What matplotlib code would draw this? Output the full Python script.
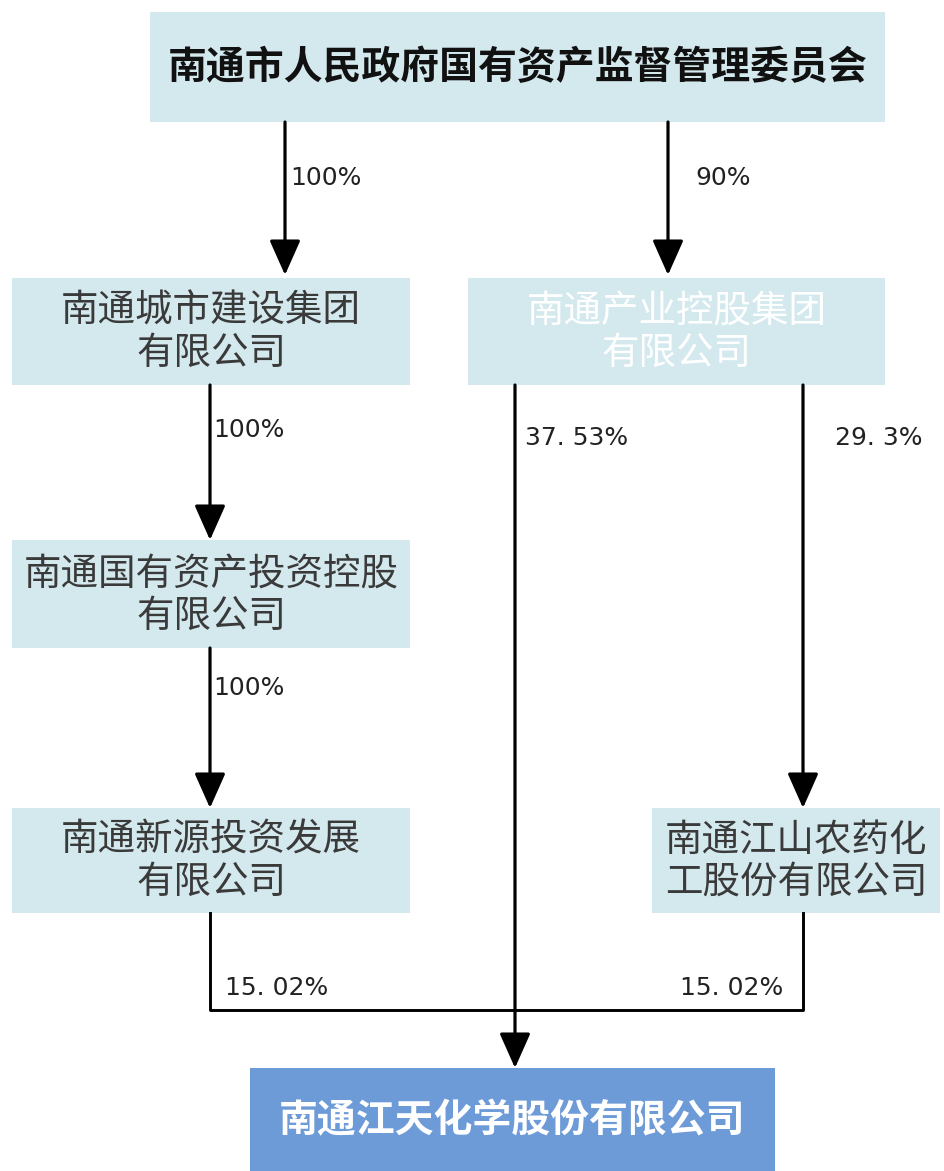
import matplotlib.pyplot as plt
from matplotlib.patches import Rectangle

plt.rcParams['font.family'] = ['Noto Sans CJK SC', 'DejaVu Sans']

# entities and holding percentages
names = ['南通市人民政府国有资产监督管理委员会',
         '南通城市建设集团\n有限公司',
         '南通产业控股集团\n有限公司',
         '南通国有资产投资控股\n有限公司',
         '南通新源投资发展\n有限公司',
         '南通江山农药化\n工股份有限公司',
         '南通江天化学股份有限公司']
shares = ['100%', '90%', '100%', '100%', '37. 53%', '29. 3%', '15. 02%', '15. 02%']

# layout in pixels (x0, y0, x1, y1), y from top
boxes = [(150, 12, 885, 122), (12, 278, 410, 385), (468, 278, 885, 385),
         (12, 540, 410, 648), (12, 808, 410, 913), (652, 808, 940, 913),
         (250, 1068, 775, 1171)]
light = '#d4e9ee'
dark = '#6d9bd8'
fills = [light, light, light, light, light, light, dark]
tcols = ['#111111', '#3a3a3a', 'white', '#3a3a3a', '#3a3a3a', '#3a3a3a', 'white']
weights = ['bold', 'normal', 'normal', 'normal', 'normal', 'normal', 'bold']
sizes = [28, 27, 27, 27, 27, 27, 28]

fig = plt.figure(figsize=(9.45, 11.71), dpi=100)
ax = fig.add_axes([0, 0, 1, 1])
ax.set_xlim(0, 945)
ax.set_ylim(1171, 0)
ax.axis('off')

for (x0, y0, x1, y1), n, fc, tc, w, s in zip(boxes, names, fills, tcols, weights, sizes):
    ax.add_patch(Rectangle((x0, y0), x1 - x0, y1 - y0, facecolor=fc, edgecolor='none'))
    ax.text((x0 + x1) / 2, (y0 + y1) / 2 + 1, n, ha='center', va='center', color=tc,
            fontsize=s, fontweight=w, linespacing=1.1)

lw = 2.3
arrows = [(285, 122, 275), (668, 122, 275), (210, 385, 540),
          (210, 648, 808), (515, 385, 1068), (803, 385, 808)]
for x, ya, yb in arrows:
    ax.annotate('', xy=(x, yb), xytext=(x, ya),
                arrowprops=dict(arrowstyle='-|>,head_length=0.9,head_width=0.4',
                                color='black', lw=lw,
                                mutation_scale=24, shrinkA=0, shrinkB=0))

# bottom joining lines
ax.plot([210, 210, 803, 803], [913, 1010, 1010, 913], color='black', lw=2.1)

label_pos = [(290, 178), (695, 178), (213, 430), (213, 688),
             (525, 438), (835, 438), (225, 988), (680, 988)]
for (x, y), s in zip(label_pos, shares):
    ax.text(x, y, s, ha='left', va='center', fontsize=18, color='#222222',
            family=['DejaVu Sans'])

fig.savefig('out.png', dpi=100, facecolor='white')
